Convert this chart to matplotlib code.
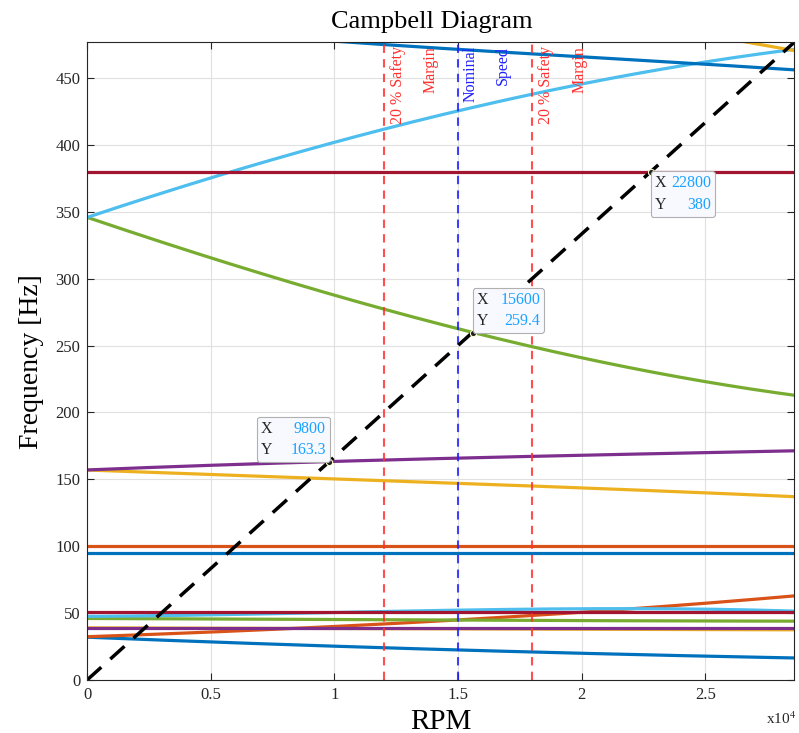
import numpy as np
import matplotlib
matplotlib.use('Agg')
import matplotlib.pyplot as plt
from matplotlib.offsetbox import TextArea, HPacker, AnnotationBbox

plt.rcParams['font.family'] = ['Liberation Serif', 'DejaVu Serif']
plt.rcParams['mathtext.fontset'] = 'stix'

# mode lines, frequency [Hz] vs rpm, in plotting order (MATLAB colour cycle)
modes = [
    ([0, 5000, 10000, 15000, 20000, 25000, 28600], [32, 28.5, 25.2, 22.5, 20, 17.8, 16.5]),
    ([0, 5000, 10000, 15000, 18000, 20000, 23000, 25000, 28600], [32.5, 35.5, 40, 45.3, 48.5, 50.5, 54, 57.5, 63]),
    ([0, 28600], [39, 37.5]),
    ([0, 28600], [39, 39]),
    ([0, 10000, 20000, 28600], [46, 45.2, 44.4, 44]),
    ([0, 5000, 10000, 15000, 20000, 23000, 26000, 28600], [47.5, 48.8, 50.5, 52, 53.3, 53.5, 52.5, 51.5]),
    ([0, 28600], [51, 51]),
    ([0, 28600], [95, 95]),
    ([0, 28600], [100, 100]),
    ([0, 5000, 10000, 15000, 20000, 25000, 28600], [157, 153.5, 150.5, 147, 143.5, 140, 137]),
    ([0, 5000, 9800, 15000, 20000, 25000, 28600], [157, 160.5, 163.3, 165.8, 168, 170, 171.3]),
    ([0, 5000, 10000, 12000, 15600, 20000, 25000, 28600], [346, 315, 288, 278, 259.4, 240, 224, 212.5]),
    ([0, 5000, 10000, 12000, 15000, 18000, 21500, 25000, 28600], [346, 375, 401, 412, 426, 439, 450, 461, 472]),
    ([0, 28600], [380, 380]),
    ([10000, 15000, 21000, 25000, 28600], [477.5, 471.5, 464.5, 460.5, 456]),
    ([26300, 28600], [478, 470.5]),
]
colors = ['#0072BD', '#D95319', '#EDB120', '#7E2F8E', '#77AC30', '#4DBEEE', '#A2142F']
mode_colors = colors + colors + ['#0072BD', '#EDB120']

x_max = 28600
margin_rpm = [12000, 18000]
nominal_rpm = 15000
tips = [(9800, 163.3, '9800', '163.3'), (15600, 259.4, '15600', '259.4'), (22800, 380, '22800', '380')]

fig = plt.figure(figsize=(7.99, 7.33), dpi=100)
ax = fig.add_axes([0.109, 0.0723, 0.885, 0.870])

for (xs, ys), c in zip(modes, mode_colors):
    xs = np.array(xs, float)
    ys = np.array(ys, float)
    xf = np.linspace(xs[0], xs[-1], 200)
    if len(xs) > 2:
        coef = np.polyfit(xs, ys, min(3, len(xs) - 1))
        yf = np.polyval(coef, xf)
    else:
        yf = np.interp(xf, xs, ys)
    ax.plot(xf, yf, color=c, lw=2.3, solid_capstyle='butt')

for xr in margin_rpm:
    ax.axvline(xr, color='#FF3030', alpha=0.85, lw=1.5, ls=(0, (4, 3)))
    ax.text(xr + 250, 474, '20 % Safety\nMargin', rotation=90, ha='left', va='top',
            multialignment='right', color='#FF3030', fontsize=11.5, linespacing=2.4)
ax.axvline(nominal_rpm, color='#2020FF', alpha=0.85, lw=1.5, ls=(0, (4, 3)))
ax.text(nominal_rpm + 180, 474, 'Nominal\nSpeed', rotation=90, ha='left', va='top',
        multialignment='right', color='#2020FF', fontsize=11.5, linespacing=2.4)

# 1x rpm excitation line
xe = np.array([0, x_max])
ax.plot(xe, xe / 60.0, color='black', lw=2.5, ls=(0, (5.5, 3.5)))

# data tips
aligns = [(1, 0), (0, 0), (0, 1)]
seps = [13, 9, 3.5]
for (tx, ty, sx, sy), al, sp in zip(tips, aligns, seps):
    ax.plot(tx, ty, 'o', ms=4.5, mfc='#202020', mec='#FFFFD0', mew=0.8, zorder=6)
    t1 = TextArea('X\nY', textprops=dict(color='#262626', fontsize=11.5, linespacing=1.45))
    t2 = TextArea(sx + '\n' + sy, textprops=dict(color='#1AA3FF', fontsize=11.5,
                                                  multialignment='right', linespacing=1.45))
    box = HPacker(children=[t1, t2], align='center', pad=0, sep=sp)
    off = (2.6 if al[0] == 0 else -2.6, -2.6 if al[1] == 1 else 2.6)
    ab = AnnotationBbox(box, (tx, ty), xybox=off, boxcoords='offset points',
                        box_alignment=al, frameon=True, fontsize=10,
                        bboxprops=dict(boxstyle='round,pad=0.28,rounding_size=0.2', fc='#F8F8FF',
                                       ec='#B0B0B0', lw=0.8), zorder=7)
    ax.add_artist(ab)

ax.set_xlim(0, x_max)
ax.set_ylim(0, x_max / 60.0)
ax.set_xticks(np.arange(0, 25001, 5000))
ax.set_xticklabels(['0', '0.5', '1', '1.5', '2', '2.5'])
ax.set_yticks(np.arange(0, 451, 50))
ax.grid(True, color='#E0E0E0', lw=0.8)
ax.set_axisbelow(True)
ax.tick_params(direction='in', top=True, right=True, length=5, width=0.8,
               labelsize=12, colors='#262626', labelcolor='#262626', pad=5)
for s in ax.spines.values():
    s.set_color('#262626')
    s.set_linewidth(0.8)

ax.set_title('Campbell Diagram', fontsize=19, color='black', pad=10, x=0.487)
ax.set_xlabel('RPM', fontsize=21, color='black', labelpad=4)
ax.set_ylabel('Frequency [Hz]', fontsize=20, color='black', labelpad=8)
fig.text(0.996, 0.012, 'x10$^{4}$', ha='right', va='baseline', fontsize=11, color='#262626')

fig.savefig('out.png', dpi=100)
